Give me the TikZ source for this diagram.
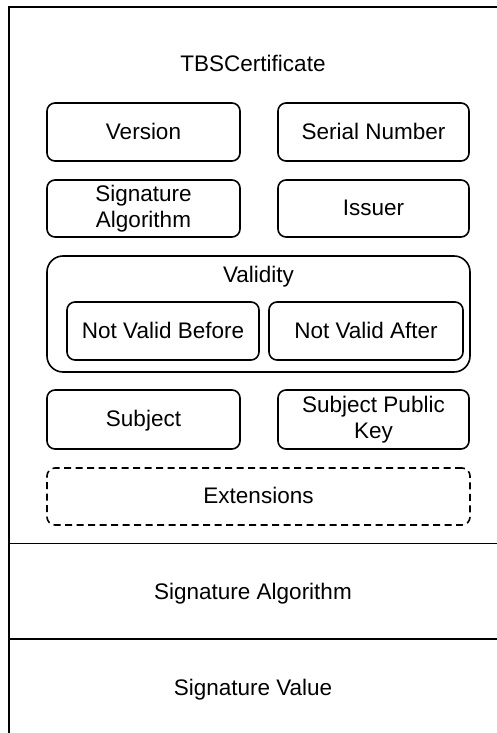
\documentclass[tikz,border=0pt]{standalone}
\usepackage{fontspec}
\setmainfont{Liberation Sans}
\begin{document}
\begin{tikzpicture}[x=1pt,y=-1pt,
  every node/.style={font=\fontsize{22.5}{26}\selectfont, inner sep=0pt},
  oneline/.style={text height=16.4pt, text depth=2pt},
  twoline/.style={align=center},
  field/.style={draw, line width=1.6pt, rounded corners=8pt, minimum height=58pt},
  group/.style={draw, line width=1.6pt, rounded corners=16pt},
  optfield/.style={draw, line width=1.6pt, rounded corners=8pt, dash pattern=on 7pt off 4.5pt},
  frame/.style={line width=1.8pt}]
\useasboundingbox (0,0) rectangle (496,733);
% certificate frame and section dividers
\coordinate (tl) at (9,7);
\coordinate (tr) at (497,7);
\coordinate (bl) at (9,734);
\coordinate (d1l) at (9,543.5);
\coordinate (d1r) at (497,543.5);
\coordinate (d2l) at (9,639);
\coordinate (d2r) at (497,639);
\draw[frame] (tr) -- (tl) -- (bl);
\draw[frame] (d1l) -- (d1r);
\draw[frame] (d2l) -- (d2r);
% TBSCertificate section
\node[oneline] (tbs) at (253,64.5) {TBSCertificate};
\node[field, oneline, minimum width=193pt] (ver) at (143.5,132) {Version};
\node[field, oneline, minimum width=191pt] (ser) at (373.5,132) {Serial Number};
\node[field, twoline, minimum width=193pt, minimum height=57pt] (salg) at (143.5,208.5) {Signature\\Algorithm};
\node[field, oneline, minimum width=191pt, minimum height=57pt] (iss) at (373.5,208.5) {Issuer};
\node[group, minimum width=423pt, minimum height=116pt] (val) at (258.5,314) {};
\node[oneline] (valt) at (258.5,275.5) {Validity};
\node[field, oneline, minimum width=192pt] (nvb) at (163,331) {Not Valid Before};
\node[field, oneline, minimum width=194pt] (nva) at (366,331) {Not Valid After};
\node[field, oneline, minimum width=193pt, minimum height=59pt] (subj) at (143.5,419.5) {Subject};
\node[field, twoline, minimum width=191pt, minimum height=59pt] (spk) at (373.5,419.5) {Subject Public\\Key};
\node[optfield, oneline, minimum width=423pt, minimum height=57pt] (ext) at (258.5,496.5) {Extensions};
% outer signature fields
\node[oneline] (sa) at (253,592) {Signature Algorithm};
\node[oneline] (sv) at (253,688) {Signature Value};
\end{tikzpicture}
\end{document}
